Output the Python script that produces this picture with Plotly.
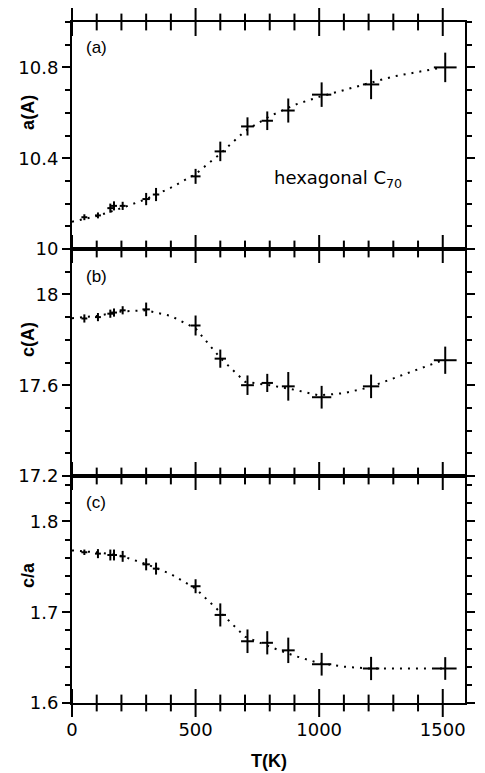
import plotly.graph_objects as go
from plotly.subplots import make_subplots

# Temperatures (K) and horizontal errors
T = [50, 105, 155, 170, 205, 300, 340, 500, 600, 710, 790, 875, 1010, 1210, 1510]
T_err = [12, 12, 12, 12, 12, 15, 13, 20, 23, 26, 23, 26, 39, 33, 46]

# Panel (a): lattice parameter a
a_val = [10.14, 10.148, 10.18, 10.19, 10.19, 10.22, 10.24, 10.32, 10.43, 10.54, 10.565, 10.61, 10.68, 10.725, 10.80]
a_err = [0.013, 0.013, 0.02, 0.02, 0.018, 0.027, 0.029, 0.033, 0.043, 0.04, 0.041, 0.053, 0.054, 0.065, 0.065]

# Panel (b): lattice parameter c (no point at 340 K)
c_val = [17.894, 17.90, 17.915, 17.92, 17.93, 17.934, None, 17.863, 17.717, 17.60, 17.61, 17.595, 17.547, 17.595, 17.71]
c_err = [0.018, 0.018, 0.018, 0.018, 0.018, 0.03, None, 0.044, 0.04, 0.043, 0.04, 0.063, 0.05, 0.052, 0.06]

# Panel (c): c/a ratio
ca_val = [1.766, 1.7645, 1.763, 1.763, 1.7615, 1.7527, 1.748, 1.7286, 1.697, 1.668, 1.6663, 1.658, 1.6427, 1.638, 1.638]
ca_err = [0.003, 0.005, 0.006, 0.006, 0.006, 0.0066, 0.0066, 0.0077, 0.0127, 0.013, 0.0128, 0.014, 0.0125, 0.0128, 0.0125]

# Dotted guide curves
fit_T = [0, 100, 200, 300, 400, 500, 600, 700, 800, 900, 1000, 1100, 1200, 1300, 1400, 1500]
fit_a = [10.12, 10.145, 10.18, 10.22, 10.27, 10.33, 10.42, 10.52, 10.585, 10.635, 10.67, 10.70, 10.73, 10.76, 10.78, 10.80]
fit_c = [17.895, 17.905, 17.925, 17.93, 17.905, 17.85, 17.72, 17.615, 17.60, 17.58, 17.555, 17.565, 17.59, 17.63, 17.67, 17.71]
fit_ca = [1.768, 1.766, 1.762, 1.753, 1.742, 1.726, 1.70, 1.673, 1.662, 1.652, 1.644, 1.64, 1.638, 1.638, 1.638, 1.638]

# Axis ranges and tick values
x_range = [0, 1590]
x_major = [0, 500, 1000, 1500]
x_minor = [100, 200, 300, 400, 600, 700, 800, 900, 1100, 1200, 1300, 1400]
a_range = [10, 11]
c_range = [17.2, 18.2]
ca_range = [1.6, 1.85]

fig = make_subplots(rows=3, cols=1, vertical_spacing=0)

panels = [(fit_a, a_val, a_err), (fit_c, c_val, c_err), (fit_ca, ca_val, ca_err)]
for i, (fy, yv, ye) in enumerate(panels, start=1):
    fig.add_trace(go.Scatter(x=fit_T, y=fy, mode="lines", line=dict(color="black", width=2, dash="2px,6px"),
                             showlegend=False, hoverinfo="skip"), row=i, col=1)
    fig.add_trace(go.Scatter(x=T, y=yv, mode="markers", marker=dict(size=1, color="black"),
                             error_x=dict(type="data", array=T_err, width=0, thickness=2, color="black"),
                             error_y=dict(type="data", array=ye, width=0, thickness=2, color="black"),
                             showlegend=False), row=i, col=1)

# x tick marks crossing every panel edge, drawn as vertical-line markers on the axis edges
edges = [(1, a_range[1]), (1, a_range[0]), (2, c_range[0]), (3, ca_range[0])]
for row, yedge in edges:
    for vals, size in [(x_major, 20), (x_minor, 12)]:
        fig.add_trace(go.Scatter(x=vals, y=[yedge] * len(vals), mode="markers", cliponaxis=False,
                                 marker=dict(symbol="line-ns", size=size, color="black",
                                             line=dict(width=2, color="black")),
                                 showlegend=False, hoverinfo="skip"), row=row, col=1)

font = "DejaVu Sans, Arial, sans-serif"
tfont = "Liberation Sans, Arial, sans-serif"
for i in range(1, 4):
    fig.update_xaxes(range=x_range, tickmode="array", tickvals=x_major,
                     ticks="", showline=True, linewidth=1.5, linecolor="black", mirror=True,
                     showgrid=False, zeroline=False, ticklabelstandoff=10,
                     tickfont=dict(family=font, size=18, color="black"),
                     showticklabels=(i == 3), row=i, col=1)

ycommon = dict(ticks="outside", ticklen=8, tickwidth=2, tickcolor="black", showline=True, linewidth=2,
               linecolor="black", mirror="allticks", showgrid=False, zeroline=False,
               tickfont=dict(family=font, size=18, color="black"))
fig.update_yaxes(**ycommon, range=a_range, tickvals=[10, 10.4, 10.8], ticktext=["10", "10.4", "10.8"],
                 minor=dict(dtick=0.1, ticks="outside", ticklen=5, tickwidth=2, tickcolor="black", showgrid=False),
                 row=1, col=1)
fig.update_yaxes(**ycommon, range=c_range, tickvals=[17.2, 17.6, 18.0], ticktext=["17.2", "17.6", "18"],
                 minor=dict(dtick=0.1, ticks="outside", ticklen=5, tickwidth=2, tickcolor="black", showgrid=False),
                 row=2, col=1)
fig.update_yaxes(**ycommon, range=ca_range, tickvals=[1.6, 1.7, 1.8], ticktext=["1.6", "1.7", "1.8"],
                 minor=dict(dtick=0.02, ticks="outside", ticklen=5, tickwidth=2, tickcolor="black", showgrid=False),
                 row=3, col=1)

ann = []
for txt, yy in [("a(A)", 0.868), ("c(A)", 0.5345), ("c/a", 0.188)]:
    ann.append(dict(text="<b>%s</b>" % txt, x=-0.112, y=yy, xref="paper", yref="paper", showarrow=False,
                    textangle=-90, xanchor="center", yanchor="middle", font=dict(family=tfont, size=18, color="black")))
for txt, yy in [("(a)", 0.962), ("(b)", 0.6256), ("(c)", 0.2937)]:
    ann.append(dict(text=txt, x=0.062, y=yy, xref="paper", yref="paper", showarrow=False,
                    xanchor="center", yanchor="middle", font=dict(family=tfont, size=17, color="black")))
ann.append(dict(text="hexagonal C<sub>70</sub>", x=1077, y=10.31, xref="x", yref="y", showarrow=False,
                xanchor="center", yanchor="middle", font=dict(family=font, size=18, color="black")))
ann.append(dict(text="<b>T(K)</b>", x=0.5, y=-0.085, xref="paper", yref="paper", showarrow=False,
                xanchor="center", yanchor="middle", font=dict(family=tfont, size=18, color="black")))

fig.update_layout(template="simple_white", width=485, height=773, margin=dict(l=72, r=10, t=22, b=70),
                  plot_bgcolor="rgba(0,0,0,0)", paper_bgcolor="white", annotations=ann,
                  showlegend=False)

fig.write_html("out.html")
